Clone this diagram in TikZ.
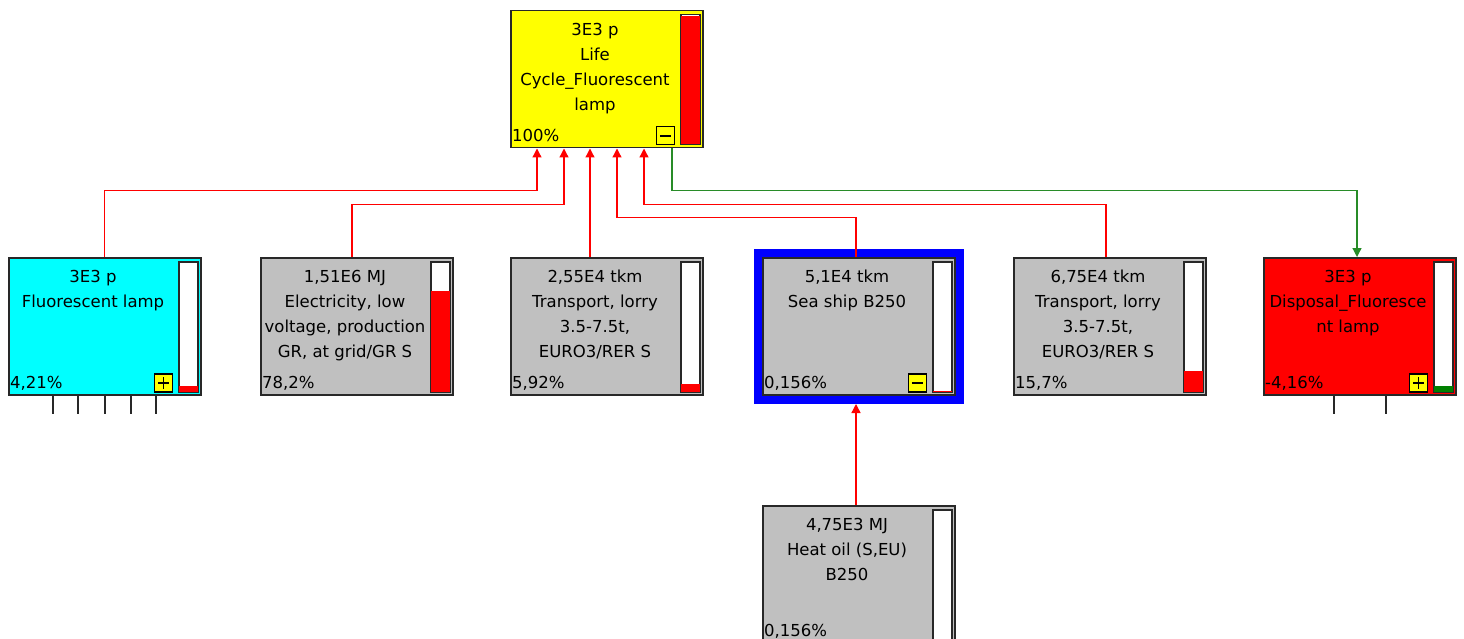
\documentclass[tikz,border=0pt]{standalone}
\usepackage{fontspec}
\setmainfont{DejaVu Sans}
\usetikzlibrary{arrows.meta, positioning, fit, backgrounds}
\definecolor{procgray}{RGB}{192,192,192}
\definecolor{procyellow}{RGB}{255,255,0}
\definecolor{proccyan}{RGB}{0,255,255}
\definecolor{flowred}{RGB}{255,0,0}
\definecolor{flowgreen}{RGB}{40,140,40}
\definecolor{bargreen}{RGB}{0,128,0}
\definecolor{edgegray}{RGB}{40,40,40}
\definecolor{selblue}{RGB}{0,0,255}

\begin{document}
\begin{tikzpicture}[x=1pt, y=-1pt, >={Triangle[width=9pt,length=9pt]},
  proc/.style={draw=edgegray, line width=1.5pt, anchor=north west, minimum width=192pt, minimum height=137pt, inner sep=0pt},
  ptext/.style={anchor=north, align=center, inner sep=0pt, font=\fontsize{16.5}{25}\selectfont},
  pct/.style={anchor=base west, inner sep=0pt, font=\fontsize{16.5}{25}\selectfont},
  bar/.style={draw=edgegray, line width=1.5pt, fill=white, anchor=north east, minimum width=19pt, minimum height=130pt, inner sep=0pt},
  btn/.style={draw=black, line width=1.2pt, fill=procyellow, anchor=south east, minimum size=18pt, inner sep=0pt},
  sign/.style={black, line width=1.3pt},
  flow/.style={->, flowred, line width=1.3pt},
  stub/.style={edgegray, line width=1.3pt}]
  \useasboundingbox (0,0) rectangle (1464,639);

  % Process boxes with score bars
  \foreach \name/\x/\y/\col/\txt/\pct/\fr/\bc in {
    top/510/10/procyellow/{3E3 p\\Life\\Cycle\_Fluorescent\\lamp}/{100\%}/1/flowred,
    lamp/8/257/proccyan/{3E3 p\\Fluorescent lamp}/{4,21\%}/0.0421/flowred,
    elec/260/257/procgray/{1,51E6 MJ\\Electricity, low\\voltage, production\\GR, at grid/GR S}/{78,2\%}/0.782/flowred,
    lorry/510/257/procgray/{2,55E4 tkm\\Transport, lorry\\3.5-7.5t,\\EURO3/RER S}/{5,92\%}/0.0592/flowred,
    ship/762/257/procgray/{5,1E4 tkm\\Sea ship B250}/{0,156\%}/0.00156/flowred,
    lorryb/1013/257/procgray/{6,75E4 tkm\\Transport, lorry\\3.5-7.5t,\\EURO3/RER S}/{15,7\%}/0.157/flowred,
    disp/1263/257/flowred/{3E3 p\\Disposal\_Fluoresce\\nt lamp}/{-4,16\%}/0.0416/bargreen,
    oil/762/505/procgray/{4,75E3 MJ\\Heat oil (S,EU)\\B250}/{0,156\%}/0.00156/flowred}
  {
    \node (\name) [proc, fill=\col] at (\x,\y) {};
    \node (\name-txt) [ptext] at ([xshift=85pt,yshift=-13pt]\name.north west) {\txt};
    \node (\name-pct) [pct] at ([xshift=2pt,yshift=7pt]\name.south west) {\pct};
    \node (\name-bar) [bar] at ([xshift=-3pt,yshift=-4pt]\name.north east) {};
    \fill[\bc] ([xshift=1pt,yshift=1pt]\name-bar.south west) rectangle ([xshift=-1pt,yshift={1+\fr*128.5}]\name-bar.south east);
  }

  % selected process
  \begin{scope}[on background layer]
    \node (ship-sel) [draw=selblue, line width=8pt, inner sep=4.5pt, fit=(ship)] {};
  \end{scope}

  % expand / collapse buttons
  \node (top-btn) [btn] at ([xshift=-5pt]top-bar.south west) {};
  \node (lamp-btn) [btn] at ([xshift=-5pt]lamp-bar.south west) {};
  \node (ship-btn) [btn] at ([xshift=-5pt]ship-bar.south west) {};
  \node (disp-btn) [btn] at ([xshift=-5pt]disp-bar.south west) {};
  \foreach \b in {top-btn, lamp-btn, ship-btn, disp-btn}
    \draw[sign] ([xshift=4pt]\b.west) -- ([xshift=-4pt]\b.east);
  \foreach \b in {lamp-btn, disp-btn}
    \draw[sign] ([yshift=4pt]\b.south) -- ([yshift=-4pt]\b.north);

  % inputs of the life cycle
  \coordinate (in1) at ([xshift=27pt]top.south west);
  \coordinate (in2) at ([xshift=54pt]top.south west);
  \coordinate (in3) at ([xshift=80pt]top.south west);
  \coordinate (in4) at ([xshift=107pt]top.south west);
  \coordinate (in5) at ([xshift=134pt]top.south west);
  \coordinate (out) at ([xshift=162pt]top.south west);
  \coordinate (oil-in) at ([xshift=94pt]oil.north west);

  \draw[flow] (lamp.north) |- ([yshift=-42pt]in1) -- (in1);
  \draw[flow] ([xshift=92pt]elec.north west) |- ([yshift=-56pt]in2) -- (in2);
  \draw[flow] ([xshift=80pt]lorry.north west) -- (in3);
  \draw[flow] ([xshift=94pt]ship.north west) |- ([yshift=-69pt]in4) -- (in4);
  \draw[flow] ([xshift=93pt]lorryb.north west) |- ([yshift=-56pt]in5) -- (in5);
  \draw[flow, flowgreen] (out) -- ([yshift=-42pt]out) -| ([xshift=94pt]disp.north west);
  \draw[flow] (oil-in) -- (oil-in |- ship-sel.south);

  % hidden sub-processes
  \foreach \dx in {45,70,97,123,148}
    \draw[stub] ([xshift=\dx pt]lamp.south west) -- ++(0,18);
  \foreach \dx in {71,123}
    \draw[stub] ([xshift=\dx pt]disp.south west) -- ++(0,18);
\end{tikzpicture}
\end{document}
